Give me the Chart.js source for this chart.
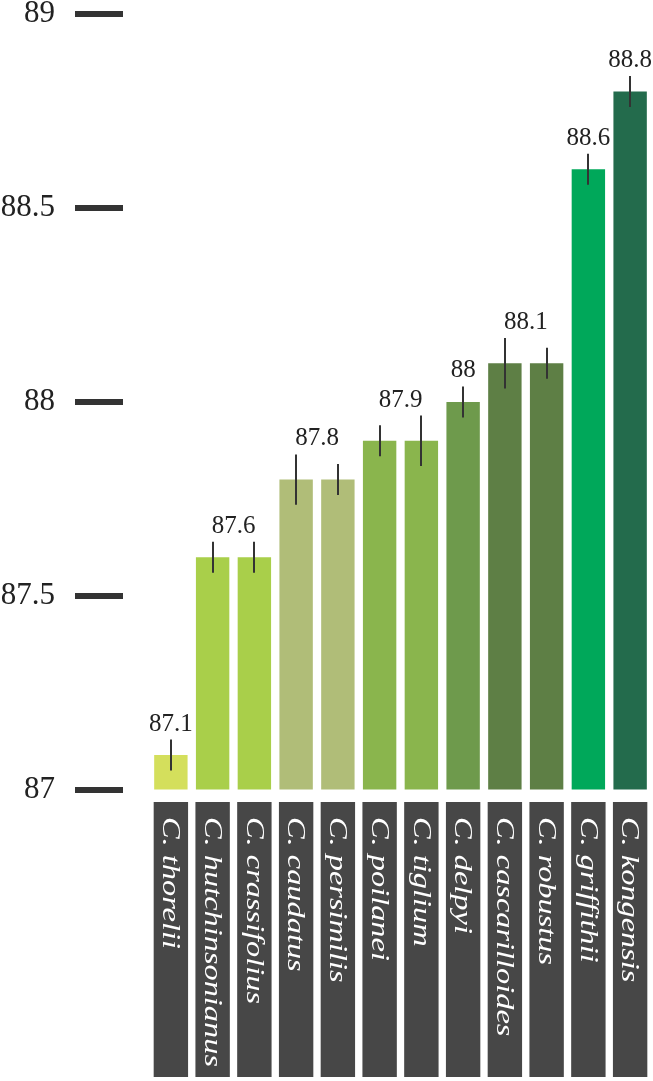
<!DOCTYPE html>
<html>
<head>
<meta charset="utf-8">
<script src="https://cdn.jsdelivr.net/npm/chart.js@4/dist/chart.umd.min.js"></script>
<style>
  html, body { margin: 0; padding: 0; background: #ffffff; }
  #c { display: block; }
</style>
</head>
<body>
<canvas id="c" width="653" height="1081"></canvas>
<script>
// ---- data ----
const categories = ["C. thorelii", "C. hutchinsonianus", "C. crassifolius", "C. caudatus", "C. persimilis", "C. poilanei", "C. tiglium", "C. delpyi", "C. cascarilloides", "C. robustus", "C. griffithii", "C. kongensis"];
const values = [87.09, 87.6, 87.6, 87.8, 87.8, 87.9, 87.9, 88.0, 88.1, 88.1, 88.6, 88.8];
const errors = [0.04, 0.04, 0.04, 0.065, 0.04, 0.04, 0.065, 0.04, 0.065, 0.04, 0.04, 0.04];
const barColors = ["#d4df5c", "#a9cf4a", "#a9cf4a", "#b0bd78", "#b0bd78", "#8ab54d", "#8ab54d", "#6e9a4c", "#5e7f45", "#5e7f45", "#00a85a", "#236b4c"];
const valueLabels = ["87.1", "87.6", "87.8", "87.9", "88", "88.1", "88.6", "88.8"];
const valueLabelGroups = [[0], [1, 2], [3, 4], [5, 6], [7], [8, 9], [10], [11]];
const yTicks = [87, 87.5, 88, 88.5, 89];

const SERIF = "'Liberation Serif', 'DejaVu Serif', serif";

const decorPlugin = {
  id: 'decor',
  afterDatasetsDraw(chart) {
    const ctx = chart.ctx;
    const y = chart.scales.y;
    const meta = chart.getDatasetMeta(0);
    ctx.save();
    // thick tick marks
    ctx.fillStyle = '#333333';
    yTicks.forEach(v => {
      const py = y.getPixelForValue(v);
      ctx.fillRect(75, py - 3, 48, 6);
    });
    // error bars
    ctx.strokeStyle = '#333333';
    ctx.lineWidth = 2;
    values.forEach((v, i) => {
      const px = Math.round(meta.data[i].x);
      ctx.beginPath();
      ctx.moveTo(px, y.getPixelForValue(v + errors[i]));
      ctx.lineTo(px, y.getPixelForValue(v - errors[i]));
      ctx.stroke();
    });
    // value labels
    ctx.fillStyle = '#222222';
    ctx.font = '25px ' + SERIF;
    ctx.textAlign = 'center';
    ctx.textBaseline = 'alphabetic';
    valueLabelGroups.forEach((g, k) => {
      let sx = 0, top = Infinity;
      g.forEach(i => {
        sx += meta.data[i].x;
        top = Math.min(top, y.getPixelForValue(values[i] + errors[i]));
      });
      ctx.fillText(valueLabels[k], sx / g.length, top - 9);
    });
    // category boxes with rotated italic labels
    const area = chart.chartArea;
    ctx.font = 'italic 26px ' + SERIF;
    const longest = Math.max(...categories.map(c => ctx.measureText(c).width));
    const stretch = 250 / longest;
    categories.forEach((c, i) => {
      const bar = meta.data[i];
      const w = bar.width + 1;
      const bx = bar.x - w / 2;
      const top = area.bottom + 12;
      const h = 275;
      ctx.fillStyle = '#474747';
      ctx.fillRect(bx, top, w, h);
      ctx.save();
      ctx.translate(bar.x, top + 15);
      ctx.rotate(Math.PI / 2);
      ctx.scale(stretch, 1);
      ctx.fillStyle = '#ffffff';
      ctx.font = 'italic 26px ' + SERIF;
      ctx.textAlign = 'left';
      ctx.textBaseline = 'middle';
      ctx.fillText(c, 0, 1);
      ctx.restore();
    });
    ctx.restore();
  }
};

new Chart(document.getElementById('c'), {
  type: 'bar',
  data: {
    labels: categories,
    datasets: [{
      data: values,
      backgroundColor: barColors,
      borderWidth: 0,
      categoryPercentage: 1,
      barPercentage: 0.8,
      base: 87
    }]
  },
  options: {
    responsive: false,
    animation: false,
    devicePixelRatio: 1,
    layout: { padding: { top: 14, bottom: 291, left: 0, right: 2 } },
    plugins: { legend: { display: false }, tooltip: { enabled: false } },
    scales: {
      x: { display: false },
      y: {
        min: 87, max: 89,
        afterFit(scale) {
          scale.width = 150;
          scale.paddingTop = 0;
          scale.paddingBottom = 0;
        },
        grid: {
          display: true,
          drawOnChartArea: false,
          drawTicks: true,
          tickLength: 95,
          color: 'rgba(0,0,0,0)'
        },
        border: { display: false },
        ticks: {
          stepSize: 0.5,
          padding: 0,
          color: '#222222',
          font: { family: SERIF, size: 31 },
          callback: (v) => String(v)
        }
      }
    }
  },
  plugins: [decorPlugin]
});
</script>
</body>
</html>
